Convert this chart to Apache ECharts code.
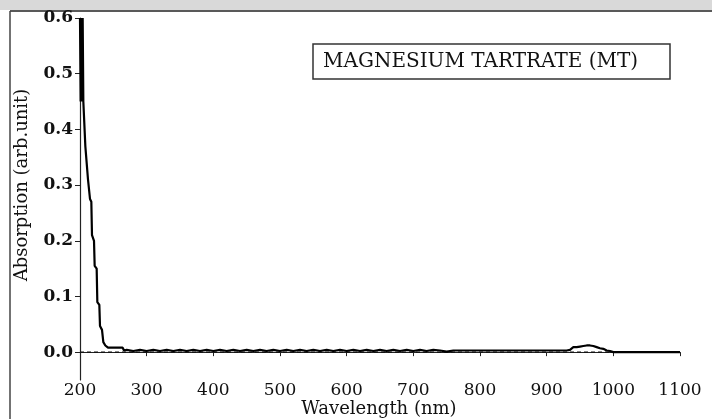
<!DOCTYPE html>
<html>
<head>
<meta charset="utf-8">
<script src="https://cdn.jsdelivr.net/npm/echarts@6/dist/echarts.min.js"></script>
<style>
html,body{margin:0;padding:0;background:#fff;}
#chart{width:712px;height:419px;}
</style>
</head>
<body>
<div id="chart"></div>
<script>
//------------- data -------------
var wavelength = [200,201,202,203,204,205,207,208,211,212,214,215,217,218,221,222,225,226,229,230,233,235,238,242,264,266,
	270,280,290,300,310,320,330,340,350,360,370,380,390,400,410,420,430,440,450,460,470,480,490,500,
	510,520,530,540,550,560,570,580,590,600,610,620,630,640,650,660,670,680,690,700,710,720,730,740,
	750,760,770,780,790,800,810,820,830,840,850,860,870,880,890,900,910,920,930,
	935,940,945,950,955,960,965,970,975,980,985,990,995,1000,1100];
var absorption = [0.6,0.45,0.6,0.45,0.6,0.45,0.45,0.37,0.37,0.31,0.31,0.275,0.27,0.21,0.2,0.155,0.15,0.09,0.085,0.047,0.04,0.018,0.012,0.008,0.008,0.003,
	0.004,0.002,0.004,0.002,0.004,0.002,0.004,0.002,0.004,0.002,0.004,0.002,0.004,0.002,0.004,0.002,0.004,0.002,0.004,0.002,0.004,0.002,0.004,0.002,
	0.004,0.002,0.004,0.002,0.004,0.002,0.004,0.002,0.004,0.002,0.004,0.002,0.004,0.002,0.004,0.002,0.004,0.002,0.004,0.002,0.004,0.002,0.004,0.003,
	0.001,0.003,0.003,0.003,0.003,0.003,0.003,0.003,0.003,0.003,0.003,0.003,0.003,0.003,0.003,0.003,0.003,0.003,0.003,
	0.004,0.009,0.009,0.01,0.011,0.012,0.012,0.011,0.009,0.007,0.006,0.003,0.002,0.0,0.0];
var baseline_x = [200,1000];
var baseline_y = [0,0];
var xTicks = [200,300,400,500,600,700,800,900,1000,1100];
var yTicks = [0.0,0.1,0.2,0.3,0.4,0.5,0.6];
var titleText = 'MAGNESIUM TARTRATE (MT)';
var xTitle = 'Wavelength (nm)';
var yTitle = 'Absorption (arb.unit)';

var curve = [];
for(var i=0;i<wavelength.length;i++){
	curve.push([wavelength[i],absorption[i]]);
}
var base = [];
for(var i=0;i<baseline_x.length;i++){
	base.push([baseline_x[i],baseline_y[i]]);
}

var serif = 'DejaVu Serif';
var myChart = echarts.init(document.getElementById('chart'));
var option = {
	animation: false,
	backgroundColor: '#fff',
	grid: {left: 80, right: 32, top: 18, bottom: 39, containLabel: false, outerBoundsMode: 'none'},
	xAxis: {
		type: 'value',
		min: 200,
		max: 1100,
		interval: 100,
		splitLine: {show: false},
		axisLine: {lineStyle: {color: '#222', width: 1.2}},
		axisTick: {show: true, length: 4, lineStyle: {color: '#222'}, customValues: xTicks},
		axisLabel: {
			fontFamily: serif, fontSize: 17, color: '#111', margin: 2, customValues: xTicks,
			formatter: function(v){ return String(v); }
		}
	},
	yAxis: {
		type: 'value',
		min: -0.05,
		max: 0.6,
		splitLine: {show: false},
		axisLine: {show: true, lineStyle: {color: '#222', width: 1.2}},
		axisTick: {show: true, length: 5, lineStyle: {color: '#222'}, customValues: yTicks},
		axisLabel: {
			fontFamily: serif, fontSize: 17, fontWeight: 'bold', color: '#111', margin: 7,
			customValues: yTicks,
			formatter: function(v){ return v.toFixed(1); }
		}
	},
	graphic: [
		{type: 'rect', shape: {x: 0, y: 0, width: 712, height: 10}, style: {fill: '#d9d9d9'}, silent: true},
		{type: 'line', shape: {x1: 10, y1: 11, x2: 712, y2: 11}, style: {stroke: '#222', lineWidth: 1.5}},
		{type: 'line', shape: {x1: 10, y1: 11, x2: 10, y2: 419}, style: {stroke: '#444', lineWidth: 1.5}},
		{type: 'rect', shape: {x: 313, y: 44, width: 357, height: 35}, style: {fill: '#fff', stroke: '#333', lineWidth: 1.5}},
		{type: 'text', x: 323, y: 62, style: {text: titleText, fontFamily: serif, fontSize: 20, fill: '#111', textVerticalAlign: 'middle'}},
		{type: 'text', x: 379, y: 409,
			style: {text: xTitle, fontFamily: serif, fontSize: 18, fill: '#111', textAlign: 'center', textVerticalAlign: 'middle'}},
		{type: 'text', x: 22, y: 185, rotation: Math.PI / 2,
			style: {text: yTitle, fontFamily: serif, fontSize: 18, fill: '#111', textAlign: 'center', textVerticalAlign: 'middle'}}
	],
	series: [
		{
			name: 'baseline',
			type: 'line',
			data: base,
			symbol: 'none',
			lineStyle: {color: '#111', width: 1.2, type: [4, 3]},
			z: 1
		},
		{
			name: 'MT',
			type: 'line',
			data: curve,
			symbol: 'none',
			lineStyle: {color: '#000', width: 2.2},
			z: 2
		}
	]
};
myChart.setOption(option);
</script>
</body>
</html>
